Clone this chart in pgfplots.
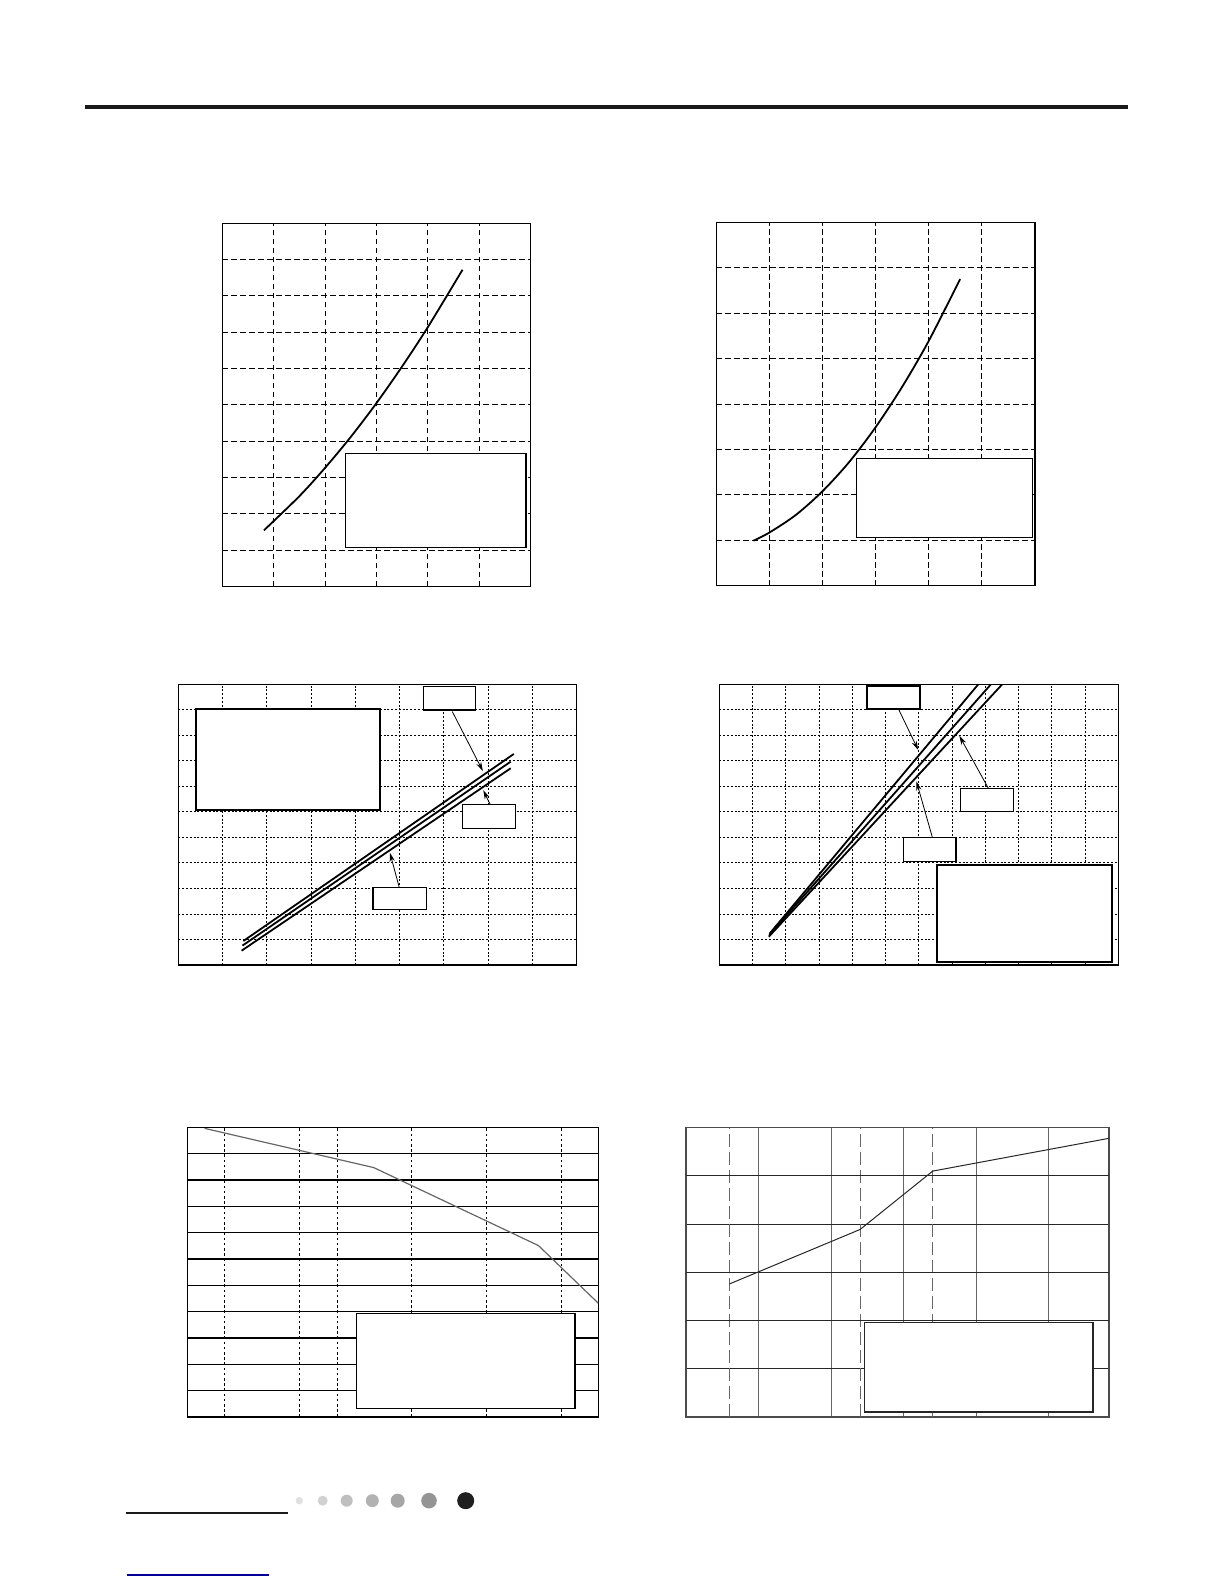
\documentclass[border=0pt]{standalone}
\usepackage{pgfplots}
\pgfplotsset{compat=1.18}
\usetikzlibrary{arrows.meta}

% page is 612pt x 792pt (1px of the reference = 0.5pt)
\pgfplotsset{
  pane/.style={scale only axis, anchor=south west,
    xticklabel={\mbox{}}, yticklabel={\mbox{}}, tick style={draw=none},
    axis line style={black, line width=0.7pt}, grid=major},
  dashgrid/.style={major grid style={black, line width=0.45pt, dash pattern=on 2.8pt off 1.7pt}},
  dotgrid/.style={major grid style={black, line width=0.45pt, dash pattern=on 1pt off 0.9pt}},
}
\tikzset{
  lbl/.style={draw=black, fill=white, line width=0.6pt},
  arr/.style={-{Stealth[length=4.5pt,width=2.6pt]}, line width=0.4pt},
}

\begin{document}
\begin{tikzpicture}
\path[use as bounding box] (0,0) rectangle (612pt,792pt);

% header rule
\draw[line width=2pt, black!90] (42.5pt,738.5pt) -- (564pt,738.5pt);

% ---- chart 1 ----
\begin{axis}[pane, dashgrid, at={(111.15pt,498.85pt)}, width=154pt, height=181.5pt,
  xmin=0, xmax=6, ymin=0, ymax=10, xtick={1,...,5}, ytick={1,...,9}]
\addplot[black, line width=0.9pt, smooth] coordinates {
  (0.81,1.54) (1.5,2.48) (2.0,3.26) (2.5,4.11) (3.0,5.04)
  (3.5,6.05) (4.0,7.13) (4.68,8.72)};
\draw[lbl, line width=0.7pt] (axis cs:2.40,1.07) rectangle (axis cs:5.92,3.66);
\end{axis}

% ---- chart 2 ----
\begin{axis}[pane, dashgrid, at={(358.15pt,499.15pt)}, width=159.35pt, height=181.7pt,
  xmin=0, xmax=6, ymin=0, ymax=8, xtick={1,...,5}, ytick={1,...,7}]
\addplot[black, line width=0.9pt, smooth] coordinates {
  (0.70,0.99) (1.0,1.17) (1.5,1.56) (2.0,2.08) (2.5,2.72) (3.0,3.49)
  (3.5,4.38) (4.0,5.39) (4.59,6.75)};
\draw[lbl, line width=0.7pt] (axis cs:2.64,1.06) rectangle (axis cs:5.95,2.80);
\end{axis}

% ---- chart 3 ----
\begin{axis}[pane, dotgrid, at={(89.15pt,309.5pt)}, width=199.2pt, height=140.35pt,
  xmin=0, xmax=9, ymin=0, ymax=11, xtick={1,...,8}, ytick={1,...,10}]
\addplot[black, line width=0.9pt] coordinates {(1.47,0.94) (7.58,8.27)};
\addplot[black, line width=0.9pt] coordinates {(1.45,0.76) (7.51,7.97)};
\addplot[black, line width=0.9pt] coordinates {(1.43,0.56) (7.51,7.71)};
\draw[lbl, line width=1pt] (axis cs:0.39,6.09) rectangle (axis cs:4.56,10.05);
\draw[lbl] (axis cs:5.54,9.99) rectangle (axis cs:6.72,10.92);
\draw[lbl] (axis cs:6.42,5.36) rectangle (axis cs:7.61,6.29);
\draw[lbl] (axis cs:4.40,2.16) rectangle (axis cs:5.61,3.05);
\draw[arr] (axis cs:6.19,9.93) -- (axis cs:6.88,7.60);
\draw[arr] (axis cs:7.04,6.31) -- (axis cs:6.89,6.85);
\draw[arr] (axis cs:4.99,3.05) -- (axis cs:4.78,4.40);
\end{axis}

% ---- chart 4 ----
\begin{axis}[pane, dotgrid, at={(359.65pt,309.5pt)}, width=199.5pt, height=140.35pt,
  xmin=0, xmax=12, ymin=0, ymax=11, xtick={1,...,11}, ytick={1,...,10}]
\addplot[black, line width=0.9pt] coordinates {(1.52,1.24) (7.79,11)};
\addplot[black, line width=0.9pt] coordinates {(1.50,1.18) (8.17,11)};
\addplot[black, line width=0.9pt] coordinates {(1.49,1.11) (8.51,11)};
\draw[lbl, line width=1pt] (axis cs:6.54,0.10) rectangle (axis cs:11.80,3.90);
\draw[lbl, line width=1pt] (axis cs:4.43,10.04) rectangle (axis cs:6.04,10.95);
\draw[lbl] (axis cs:7.26,6.01) rectangle (axis cs:8.84,6.93);
\draw[lbl] (axis cs:5.53,4.07) rectangle (axis cs:7.12,4.99);
\draw[arr] (axis cs:5.40,10.0) -- (axis cs:5.98,8.43);
\draw[arr] (axis cs:8.09,6.93) -- (axis cs:7.22,8.98);
\draw[arr] (axis cs:6.41,4.99) -- (axis cs:5.93,7.19);
\end{axis}

% ---- chart 5 ----
\begin{axis}[pane, at={(93.65pt,83.5pt)}, width=205.5pt, height=144.85pt,
  xmin=0, xmax=5.49, ymin=0, ymax=11,
  xtick={0.5,2,3,4,5}, ytick={1,...,10},
  extra x ticks={1.5},
  every axis x grid/.style={black, line width=0.5pt, dash pattern=on 1.3pt off 1.3pt},
  every axis y grid/.style={black, line width=0.55pt},
  extra x tick style={grid=major, major grid style={black, line width=0.5pt, dash pattern=on 4pt off 0.9pt}}]
\addplot[black!60, line width=0.6pt] coordinates {
  (0.23,10.96) (2.49,9.47) (4.69,6.51) (5.49,4.32)};
\draw[lbl, line width=0.7pt] (axis cs:2.26,0.33) rectangle (axis cs:5.18,3.94);
\end{axis}

% ---- chart 6 ----
\begin{axis}[pane, at={(343pt,83.5pt)}, width=211.5pt, height=144.65pt,
  axis line style={black!70, line width=0.7pt},
  xmin=0, xmax=5.83, ymin=0, ymax=6,
  xtick={1,2,3,4,5}, ytick={1,4},
  extra x ticks={0.6,2.4,3.4}, extra y ticks={2,3,5},
  every axis x grid/.style={black!60, line width=0.55pt},
  every axis y grid/.style={black!85, line width=0.55pt},
  extra x tick style={grid=major, major grid style={black!60, line width=0.55pt, dash pattern=on 6.5pt off 2.5pt}},
  extra y tick style={grid=major, major grid style={black!45, line width=0.7pt}}]
\addplot[black!85, line width=0.5pt] coordinates {
  (0.60,2.76) (2.40,3.89) (3.40,5.10) (5.83,5.78)};
\draw[lbl, line width=0.7pt, draw=black!85] (axis cs:2.46,0.10) rectangle (axis cs:5.61,1.96);
\end{axis}

% footer decoration
\draw[line width=1.1pt, black!90] (63pt,35.65pt) -- (144pt,35.65pt);
\fill[black!12] (149.65pt,41.65pt) circle (1.85pt);
\fill[black!18] (161.35pt,41.65pt) circle (2.5pt);
\fill[black!25] (173.35pt,41.65pt) circle (3pt);
\fill[black!30] (186.15pt,41.65pt) circle (3.25pt);
\fill[black!35] (198.85pt,41.65pt) circle (3.5pt);
\fill[black!42] (214.5pt,41.65pt) circle (3.9pt);
\fill[black!88] (232.85pt,41.65pt) circle (4.25pt);
\draw[line width=0.6pt, blue!60!black] (63.35pt,4.5pt) -- (134.35pt,4.5pt);
\end{tikzpicture}
\end{document}
